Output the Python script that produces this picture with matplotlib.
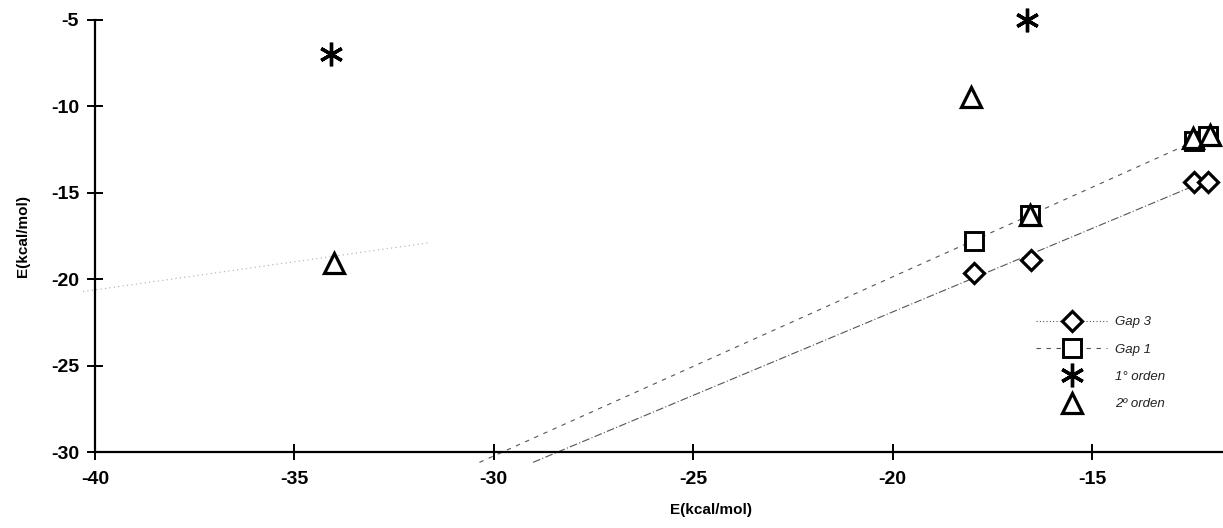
import numpy as np
import matplotlib
matplotlib.use("Agg")
import matplotlib.pyplot as plt
from matplotlib.lines import Line2D

plt.rcParams['font.family'] = ['Liberation Sans', 'DejaVu Sans']
plt.rcParams['axes.unicode_minus'] = False

# ---- data ----
gap3_x = [-17.95, -16.54, -12.43, -12.10]
gap3_y = [-19.67, -18.89, -14.40, -14.36]
gap1_x = [-17.97, -16.55, -12.43, -12.10]
gap1_y = [-17.77, -16.28, -12.00, -11.70]
orden1_x = [-34.08, -16.63]
orden1_y = [-6.97, -5.00]
orden2_x = [-34.00, -18.03, -16.55, -12.46, -12.04]
orden2_y = [-19.08, -9.46, -16.28, -11.83, -11.65]

x_ticks = [-40, -35, -30, -25, -20, -15]
y_ticks = [-30, -25, -20, -15, -10, -5]
labels = ["Gap 3", "Gap 1", "1° orden", "2º orden"]
axis_label = "E(kcal/mol)"

fig = plt.figure(figsize=(12.23, 5.28), dpi=100)
ax = fig.add_axes([95/1223, 76/528, 1128/1223, 432/528])

ax.set_xlim(-40, -11.715)
ax.set_ylim(-30, -5)

# ---- trend lines (least-squares fits) ----
y_start = -30.6
m3, b3 = np.polyfit(gap3_x, gap3_y, 1)
xs3 = np.array([(y_start - b3) / m3, max(gap3_x)])
ax.plot(xs3, m3 * xs3 + b3, color='#555555', lw=0.8, dashes=(7, 2, 1, 2),
        clip_on=False, zorder=2)
m1, b1 = np.polyfit(gap1_x, gap1_y, 1)
xs1 = np.array([(y_start - b1) / m1, max(gap1_x)])
ax.plot(xs1, m1 * xs1 + b1, color='#555555', lw=0.8, dashes=(4, 5),
        clip_on=False, zorder=2)
m2, b2 = np.polyfit(orden2_x, orden2_y, 1)
xs2 = np.array([-40.3, -31.6])
ax.plot(xs2, m2 * xs2 + b2, color='#aaaaaa', lw=0.8, dashes=(1, 3),
        clip_on=False, zorder=2)

# ---- markers ----
mk = dict(color='black', markerfacecolor='white', markeredgecolor='black',
          linestyle='none', clip_on=False, zorder=3)
ax.plot(gap3_x, gap3_y, marker='D', markersize=10, markeredgewidth=2.3, **mk)
ax.plot(gap1_x, gap1_y, marker='s', markersize=13, markeredgewidth=2.1, **mk)
ax.plot(orden1_x, orden1_y, marker=(6, 2, 0), markersize=17, markeredgewidth=2.4, **mk)
ax.plot(orden2_x, orden2_y, marker='^', markersize=14, markeredgewidth=2.3, **mk)

# ---- axes styling ----
for s in ['top', 'right']:
    ax.spines[s].set_visible(False)
for s in ['left', 'bottom']:
    ax.spines[s].set_linewidth(1.6)
ax.set_xticks(x_ticks)
ax.set_yticks(y_ticks)
ax.tick_params(axis='both', direction='inout', length=11, width=1.4,
               labelsize=14, pad=6)
ax.tick_params(axis='x', pad=8)
for t in ax.get_xticklabels() + ax.get_yticklabels():
    t.set_fontweight('bold')

ax.set_xlabel(axis_label, fontsize=11, fontweight='bold')
ax.set_ylabel(axis_label, fontsize=11, fontweight='bold')
ax.xaxis.set_label_coords(0.546, -0.118)
ax.yaxis.set_label_coords(-0.058, 0.5)

# ---- legend ----
handles = [
    Line2D([], [], color='#555555', lw=0.8, dashes=(1, 2), marker='D', markersize=10,
           markeredgewidth=2.3, markerfacecolor='white', markeredgecolor='black'),
    Line2D([], [], color='#555555', lw=0.8, dashes=(4, 5), marker='s', markersize=13,
           markeredgewidth=2.1, markerfacecolor='white', markeredgecolor='black'),
    Line2D([], [], linestyle='none', marker=(6, 2, 0), markersize=17,
           markeredgewidth=2.4, color='black'),
    Line2D([], [], linestyle='none', marker='^', markersize=14, markeredgewidth=2.3,
           markerfacecolor='white', markeredgecolor='black'),
]
leg = fig.legend(handles, labels, loc='upper left',
                 bbox_to_anchor=(1036/1223, 1 - 316/528),
                 frameon=False, borderpad=0, borderaxespad=0,
                 handlelength=5.4, handletextpad=0.6, labelspacing=1.15,
                 prop={'size': 9.5, 'style': 'italic'})
for t in leg.get_texts():
    t.set_color('#222222')

fig.savefig('out.png', dpi=100)
